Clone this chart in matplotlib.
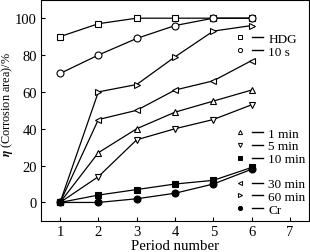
import numpy as np
import matplotlib.pyplot as plt
from matplotlib.lines import Line2D
from matplotlib.legend_handler import HandlerTuple

plt.rcParams['font.family'] = ['Liberation Serif', 'DejaVu Serif']
plt.rcParams['mathtext.fontset'] = 'stix'

# period numbers and corrosion area (%)
periods = [1, 2, 3, 4, 5, 6]
hdg = [90, 97, 100, 100, 100, 100]
s10 = [70, 80, 89, 96, 100, 100]
min1 = [0, 27, 40, 49, 55, 61]
min5 = [0, 14, 34, 40, 45, 53]
min10 = [0, 4, 7, 10, 12, 19]
min30 = [0, 45, 50, 61, 66, 77]
min60 = [0, 60, 64, 79, 93, 96]
cr = [0, 0, 2, 5, 10, 18]

series = [
    ('HDG', hdg, 's', 'white'),
    ('10 s', s10, 'o', 'white'),
    ('1 min', min1, '^', 'white'),
    ('5 min', min5, 'v', 'white'),
    ('10 min', min10, 's', 'black'),
    ('30 min', min30, '<', 'white'),
    ('60 min', min60, '>', 'white'),
    ('Cr', cr, 'o', 'black'),
]

fig, ax = plt.subplots(figsize=(3.10, 2.53), dpi=100)
fig.subplots_adjust(left=0.132, right=0.997, bottom=0.123, top=0.997)

handles = {}
for name, vals, mk, fc in series:
    ax.plot(periods, vals, color='black', lw=0.9, marker=mk, ms=5,
            mfc=fc, mec='black', mew=0.8)
    h_mk = Line2D([], [], ls='none', marker=mk, ms=3, mfc=fc, mec='black', mew=0.7)
    h_ln = Line2D([], [], color='black', lw=1)
    handles[name] = (h_mk, h_ln)

ax.set_xlim(0.5, 7.5)
ax.set_ylim(-10, 110)
ax.set_xticks([1, 2, 3, 4, 5, 6, 7])
ax.set_yticks([0, 20, 40, 60, 80, 100])
ax.tick_params(direction='in', length=3, width=0.8, labelsize=10.5, pad=3)
ax.set_xlabel('Period number', fontsize=10.7, labelpad=1)
ax.set_ylabel(r'$\boldsymbol{\eta}$ (Corrosion area)/%', fontsize=8.8)
ax.yaxis.set_label_coords(-0.097, 0.53)

groups = [(['HDG', '10 s'], 0.851), (['1 min', '5 min', '10 min'], 0.423),
          (['30 min', '60 min', 'Cr'], 0.194)]
for names, ytop in groups:
    leg = ax.legend([handles[n] for n in names], names, loc='upper left',
                    bbox_to_anchor=(0.72, ytop), frameon=False, fontsize=9.5,
                    borderpad=0, borderaxespad=0, labelspacing=0.05,
                    handlelength=2.2, handletextpad=0.4,
                    handler_map={tuple: HandlerTuple(ndivide=None, pad=0.5)})
    if names[0] != '30 min':
        ax.add_artist(leg)

plt.savefig('out.png', dpi=100)
